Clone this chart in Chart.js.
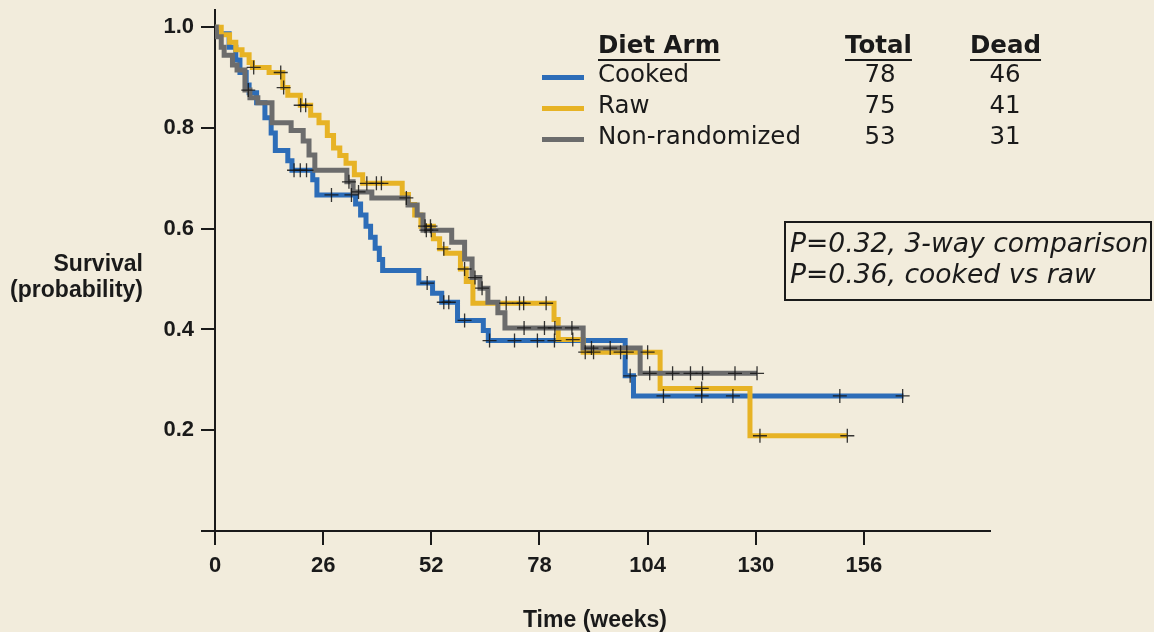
<!DOCTYPE html>
<html>
<head>
<meta charset="utf-8">
<script src="https://cdn.jsdelivr.net/npm/chart.js@4.4.0/dist/chart.umd.min.js"></script>
<style>
    html, body { margin: 0; padding: 0; background: #f2ecdc; }
    canvas { display: block; }
</style>
</head>
<body>
<canvas id="kmChart" width="1154" height="632"></canvas>
<script>
// Kaplan-Meier steps: time (weeks) where survival drops, survival after the drop
const cookedT = [0, 0.5, 3.4, 5, 6, 7.5, 8.2, 10, 12, 13.5, 14.5, 17.5, 18.5, 23.5, 24.5, 33.8, 35, 36.3, 37.4, 38.5, 39.5, 40.3, 49, 52.3, 54.5, 58.3, 64.5, 65.7, 98.6, 100.6, 165.5];
const cookedS = [1.0, 0.987, 0.96, 0.935, 0.91, 0.885, 0.87, 0.85, 0.82, 0.79, 0.755, 0.735, 0.716, 0.697, 0.667, 0.649, 0.627, 0.605, 0.583, 0.561, 0.539, 0.517, 0.492, 0.472, 0.454, 0.418, 0.398, 0.378, 0.308, 0.268, 0.268];
const cookedCensor = [19, 20.5, 22, 28, 32.8, 51, 55, 56.2, 60, 66, 72, 77.5, 81.6, 99.8, 107.8, 117, 124.5, 150.2, 165.3];

const rawT = [0, 1.5, 3.5, 5, 6.5, 8.2, 9, 13, 16.3, 17.5, 20.5, 23, 25, 27, 28.5, 30, 31.5, 33.5, 35.5, 45, 46.5, 48, 49.5, 52.5, 54, 55.5, 59, 60.4, 62, 81.5, 82.5, 88.5, 107, 128.6, 152];
const rawS = [1.0, 0.985, 0.97, 0.955, 0.945, 0.93, 0.92, 0.91, 0.88, 0.865, 0.845, 0.825, 0.81, 0.785, 0.76, 0.745, 0.73, 0.707, 0.69, 0.668, 0.648, 0.627, 0.605, 0.58, 0.56, 0.551, 0.52, 0.495, 0.452, 0.42, 0.38, 0.355, 0.283, 0.189, 0.189];
const rawCensor = [9.3, 15.8, 16.5, 20.6, 21.8, 36.5, 38.8, 40, 50.5, 51.8, 55, 60, 70, 73.2, 74.2, 79.6, 86, 89, 91, 97.5, 99, 104, 117, 131, 152];

const nonT = [0, 0.3, 1.5, 2.2, 4.2, 5.3, 7.2, 8.4, 10.3, 13.7, 18.3, 21.2, 22.6, 24, 31.7, 33.2, 37.7, 46.4, 48.6, 50, 56.9, 60, 61.8, 63.7, 65.6, 68, 69.7, 88.5, 102.2, 130.3];
const nonS = [1.0, 0.981, 0.96, 0.944, 0.925, 0.915, 0.875, 0.86, 0.85, 0.81, 0.795, 0.774, 0.746, 0.716, 0.693, 0.673, 0.661, 0.647, 0.627, 0.597, 0.573, 0.54, 0.503, 0.482, 0.454, 0.433, 0.403, 0.363, 0.313, 0.313];
const nonCensor = [8, 32.2, 34.5, 46, 50.8, 52, 62.5, 64.2, 74.3, 79.2, 81.7, 85.8, 90.5, 95, 104.5, 110, 114.3, 117.2, 125, 130.3];

// Legend table
const armNames = ['Cooked', 'Raw', 'Non-randomized'];
const armTotal = ['78', '75', '53'];
const armDead = ['46', '41', '31'];
const armColors = ['#2d6db8', '#e7b325', '#6c6c6c'];

const xTicks = [0, 26, 52, 78, 104, 130, 156];
const yTicks = [0, 0.2, 0.4, 0.6, 0.8, 1.0];
const pLines = ['P=0.32, 3-way comparison', 'P=0.36, cooked vs raw'];

const ink = '#1a1a1a';

// survival value at time t (step function)
const survAt = (T, S, t) => {
    let v = S[0];
    for (let i = 0; i < T.length; i++) {
        if (T[i] <= t) v = S[i];
    }
    return v;
};

const curve = (T, S) => T.map((t, i) => ({ x: t, y: S[i] }));
const marks = (T, S, C) => C.map(t => ({ x: t, y: survAt(T, S, t) }));

const lineSet = (label, data, color, order) => ({
    label: label,
    data: data,
    borderColor: color,
    borderWidth: 5,
    stepped: 'before',
    pointRadius: 0,
    fill: false,
    borderJoinStyle: 'miter',
    borderCapStyle: 'butt',
    order: order
});

const censorSet = (data) => ({
    type: 'scatter',
    data: data,
    pointStyle: 'cross',
    pointRadius: 7,
    borderColor: 'rgba(20,20,20,0.85)',
    borderWidth: 1.3,
    showLine: false,
    order: 0
});

// texts, legend table and p-value box
const decorations = {
    id: 'decorations',
    beforeDraw: (chart) => {
        const ctx = chart.ctx;
        ctx.save();
        ctx.fillStyle = '#f2ecdc';
        ctx.fillRect(0, 0, chart.width, chart.height);
        ctx.restore();
    },
    afterDraw: (chart) => {
        const ctx = chart.ctx;
        ctx.save();
        ctx.fillStyle = ink;
        ctx.strokeStyle = ink;

        // axis titles
        ctx.font = 'bold 23px "Liberation Sans", Arial, sans-serif';
        ctx.textBaseline = 'middle';
        ctx.textAlign = 'right';
        ctx.fillText('Survival', 143, 265);
        ctx.fillText('(probability)', 143, 291);
        ctx.textAlign = 'center';
        ctx.fillText('Time (weeks)', 595, 621);

        // legend header
        ctx.textAlign = 'left';
        ctx.font = 'bold 24.5px "DejaVu Sans", Verdana, sans-serif';
        const heads = [['Diet Arm', 598], ['Total', 845], ['Dead', 970]];
        heads.forEach(([txt, x]) => {
            ctx.fillText(txt, x, 47);
            const w = ctx.measureText(txt).width;
            ctx.fillRect(x, 59, w, 2);
        });

        // legend rows
        ctx.font = '24.5px "DejaVu Sans", Verdana, sans-serif';
        armNames.forEach((name, i) => {
            const y = 76 + i * 31;
            ctx.fillStyle = armColors[i];
            ctx.fillRect(542, y - 1, 42, 5);
            ctx.fillStyle = ink;
            ctx.textAlign = 'left';
            ctx.fillText(name, 598, y);
            ctx.textAlign = 'center';
            ctx.fillText(armTotal[i], 880, y);
            ctx.fillText(armDead[i], 1005, y);
        });

        // p-value box
        ctx.lineWidth = 2;
        ctx.strokeRect(785, 222, 366, 78);
        ctx.textAlign = 'left';
        ctx.font = 'italic 26.6px "DejaVu Sans", Verdana, sans-serif';
        ctx.fillText(pLines[0], 790, 245);
        ctx.fillText(pLines[1], 790, 276);
        ctx.restore();
    }
};

const tickFont = { family: '"Liberation Sans", Arial, sans-serif', size: 22, weight: 'bold' };

new Chart(document.getElementById('kmChart'), {
    type: 'line',
    data: {
        datasets: [
            censorSet(marks(nonT, nonS, nonCensor)),
            censorSet(marks(rawT, rawS, rawCensor)),
            censorSet(marks(cookedT, cookedS, cookedCensor)),
            lineSet('Non-randomized', curve(nonT, nonS), armColors[2], 1),
            lineSet('Raw', curve(rawT, rawS), armColors[1], 2),
            lineSet('Cooked', curve(cookedT, cookedS), armColors[0], 3)
        ]
    },
    options: {
        responsive: false,
        animation: false,
        layout: { padding: { left: 0, top: 10, right: 164, bottom: 0 } },
        plugins: {
            legend: { display: false },
            tooltip: { enabled: false }
        },
        scales: {
            x: {
                type: 'linear',
                min: 0,
                max: 186.3,
                afterBuildTicks: (s) => { s.ticks = xTicks.map(v => ({ value: v })); },
                afterFit: (s) => { s.height = 101; s.paddingLeft = 0; s.paddingRight = 0; },
                ticks: { color: ink, font: tickFont, padding: 8, maxRotation: 0, autoSkip: false },
                grid: { drawOnChartArea: false, drawTicks: true, tickLength: 14, color: ink, lineWidth: 2 },
                border: { display: true, color: ink, width: 2 }
            },
            y: {
                min: 0,
                max: 1.034,
                afterBuildTicks: (s) => { s.ticks = yTicks.map(v => ({ value: v })); },
                afterFit: (s) => { s.width = 215; s.paddingTop = 0; s.paddingBottom = 0; },
                ticks: {
                    color: ink,
                    font: tickFont,
                    padding: 7,
                    callback: (v) => v === 0 ? '' : v.toFixed(1)
                },
                grid: { drawOnChartArea: false, drawTicks: true, tickLength: 14, color: ink, lineWidth: 2 },
                border: { display: true, color: ink, width: 2 }
            }
        }
    },
    plugins: [decorations]
});
</script>
</body>
</html>
